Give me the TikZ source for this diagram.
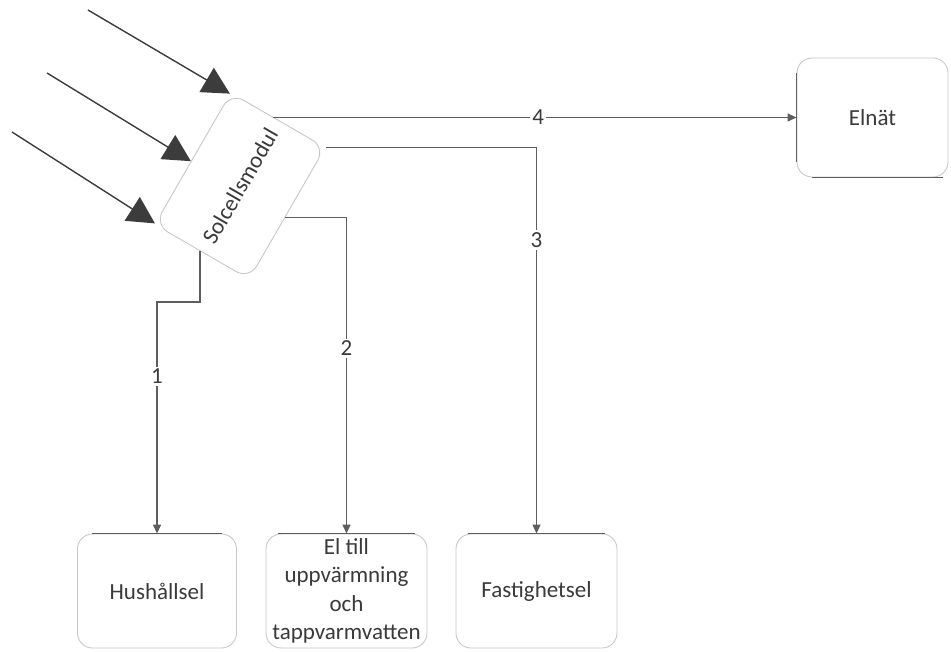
\documentclass[tikz,border=0pt]{standalone}
\usepackage{fontspec}
\setmainfont{Carlito}
\usetikzlibrary{arrows.meta,calc}
\definecolor{boxgray}{HTML}{C8C8C8}
\definecolor{linegray}{HTML}{5E5E5E}
\definecolor{txt}{HTML}{3A3A3A}
\definecolor{sungray}{HTML}{3C3C3C}
\begin{document}
\begin{tikzpicture}[x=1pt,y=-1pt,
  box/.style={draw=boxgray, line width=0.9pt, rounded corners=15pt, fill=white, text=txt,
              align=center, font=\fontsize{23}{28.5}\selectfont, inner sep=0pt},
  conn/.style={draw=linegray, line width=1.4pt, -{Triangle[length=9pt,width=8pt]}},
  sun/.style={draw=sungray, line width=1.4pt, -{Triangle[length=27pt,width=28pt]}},
  lab/.style={fill=white, text=txt, font=\fontsize{23}{28}\selectfont, inner sep=2pt},
  edgeline/.style={draw=linegray, line width=1.1pt}]
\useasboundingbox (0,0) rectangle (951,652);

% nodes
\node[box, minimum width=152pt, minimum height=109pt, rotate=60] (sol) at (240,186) {Solcellsmodul};
\node[box, minimum width=151pt, minimum height=119pt] (elnat) at (872.5,117.5) {Elnät};
\node[box, minimum width=159pt, minimum height=114pt] (hus) at (157,591) {Hushållsel};
\node[box, minimum width=161pt, minimum height=114pt] (heat) at (346.5,591) {El till\\uppvärmning\\och\\tappvarmvatten};
\node[box, minimum width=161pt, minimum height=114pt] (fast) at (536.5,591) {Fastighetsel};

% darker entry edges
\draw[edgeline] ([xshift=15pt]hus.north west) -- ([xshift=-15pt]hus.north east);
\draw[edgeline] ([xshift=12pt]heat.north west) -- ([xshift=-12pt]heat.north east);
\draw[edgeline] ([xshift=12pt]fast.north west) -- ([xshift=-12pt]fast.north east);
\draw[edgeline] ([yshift=-15pt]elnat.north west) -- ([yshift=15pt]elnat.south west);
\draw[edgeline] ([xshift=15pt]elnat.south west) -- ([xshift=-5pt]elnat.south east);

% sun rays
\path (sol.north west) -- (sol.north east)
  coordinate[pos=0.01] (t3) coordinate[pos=0.48] (t2) coordinate[pos=0.99] (t1);
\coordinate (a1) at (88,10);
\coordinate (a2) at (47,73);
\coordinate (a3) at (12,132);
\draw[sun] (a1) -- (t1);
\draw[sun] (a2) -- (t2);
\draw[sun] (a3) -- (t3);

% connectors
\path (sol.north east) -- (sol.south east) coordinate[pos=0.44] (s4);
\draw[conn] (s4 |- elnat.west) -- node[lab, pos=0.507]{4} (elnat.west);

\draw[conn] (sol.south east) -| node[lab, pos=0.62]{3} (fast.north);

\path (sol.south east) -- (sol.south west) coordinate[pos=0.53] (s2);
\draw[conn] (s2) -| node[lab, pos=0.707]{2} (heat.north);

\path (sol.south west) -- (sol.north west) coordinate[pos=0.52] (s1);
\draw[conn] (s1) -- ++(0,51) -| node[lab, pos=0.66]{1} (hus.north);
\end{tikzpicture}
\end{document}
